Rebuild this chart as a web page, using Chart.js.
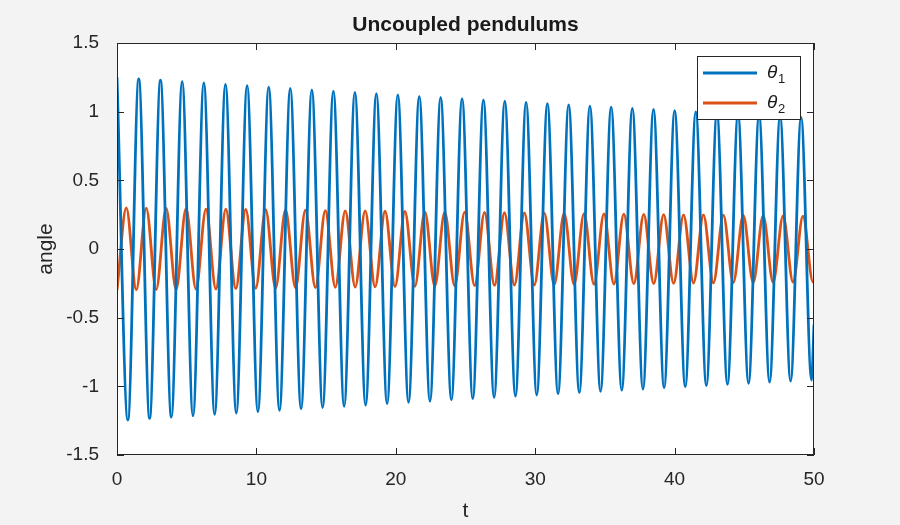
<!DOCTYPE html>
<html><head><meta charset="utf-8">
<script src="https://cdn.jsdelivr.net/npm/chart.js@4/dist/chart.umd.min.js"></script>
<style>html,body{margin:0;padding:0;background:#f3f3f3}#c{display:block}</style>
</head><body><canvas id="c" width="900" height="525"></canvas>
<script>
// theta1 extrema (peak/trough times alternating)
const theta1Times = [0,0.780,1.560,2.339,3.118,3.897,4.675,5.452,6.229,7.006,7.782,8.558,9.333,10.108,10.883,11.657,12.431,13.204,13.977,14.750,15.522,16.294,17.065,17.836,18.606,19.376,20.145,20.914,21.683,22.451,23.219,23.987,24.754,25.521,26.287,27.053,27.818,28.583,29.347,30.111,30.875,31.638,32.401,33.163,33.925,34.687,35.448,36.209,36.969,37.729,38.488,39.247,40.005,40.763,41.521,42.278,43.035,43.791,44.547,45.303,46.058,46.813,47.567,48.321,49.074,49.825,50];
const theta1Values = [1.250,-1.245,1.239,-1.234,1.229,-1.224,1.219,-1.214,1.209,-1.204,1.199,-1.194,1.189,-1.184,1.179,-1.174,1.169,-1.164,1.159,-1.155,1.150,-1.145,1.140,-1.136,1.131,-1.126,1.122,-1.117,1.112,-1.108,1.103,-1.099,1.094,-1.090,1.085,-1.081,1.076,-1.072,1.067,-1.063,1.059,-1.054,1.050,-1.046,1.041,-1.037,1.033,-1.028,1.024,-1.020,1.016,-1.011,1.007,-1.003,0.999,-0.995,0.991,-0.986,0.982,-0.978,0.974,-0.970,0.966,-0.962,0.958,-0.954,-0.55];
const theta2Times = [0,0.670,1.384,2.098,2.811,3.525,4.239,4.953,5.667,6.380,7.094,7.808,8.522,9.236,9.949,10.663,11.377,12.091,12.805,13.518,14.232,14.946,15.660,16.374,17.087,17.801,18.515,19.229,19.943,20.656,21.370,22.084,22.798,23.512,24.225,24.939,25.653,26.367,27.081,27.794,28.508,29.222,29.936,30.650,31.363,32.077,32.791,33.505,34.219,34.932,35.646,36.360,37.074,37.788,38.501,39.215,39.929,40.643,41.357,42.070,42.784,43.498,44.212,44.926,45.639,46.353,47.067,47.781,48.495,49.208,49.922,50];
const theta2Values = [-0.300,0.299,-0.298,0.297,-0.296,0.295,-0.294,0.293,-0.292,0.291,-0.291,0.290,-0.289,0.288,-0.287,0.286,-0.285,0.284,-0.283,0.282,-0.281,0.280,-0.279,0.278,-0.277,0.277,-0.276,0.275,-0.274,0.273,-0.272,0.271,-0.270,0.269,-0.268,0.268,-0.267,0.266,-0.265,0.264,-0.263,0.262,-0.262,0.261,-0.260,0.259,-0.258,0.257,-0.257,0.256,-0.255,0.254,-0.253,0.252,-0.252,0.251,-0.250,0.249,-0.248,0.248,-0.247,0.246,-0.245,0.244,-0.244,0.243,-0.242,0.241,-0.241,0.240,-0.239,-0.236];
const xTicks = [0,10,20,30,40,50];
const yTicks = [-1.5,-1,-0.5,0,0.5,1,1.5];
const seriesNames = ['1','2'];
const colors = ['#0072BD','#D95319'];
const FONT = '"Liberation Sans", Arial, sans-serif';

const pts = (ts, vs) => ts.map((t,i)=>({x:t,y:vs[i]}));

const deco = {
  id:'deco',
  beforeDraw(ch){
    const {ctx, chartArea:a} = ch;
    ctx.save(); ctx.fillStyle='#fff'; ctx.fillRect(a.left,a.top,a.right-a.left,a.bottom-a.top); ctx.restore();
  },
  afterDraw(ch){
    const {ctx, chartArea:a, scales} = ch;
    ctx.save();
    ctx.strokeStyle='#262626'; ctx.lineWidth=1;
    ctx.strokeRect(a.left+0.5,a.top+0.5,a.right-a.left-1,a.bottom-a.top-1);
    ctx.beginPath();
    xTicks.forEach(v=>{const x=Math.round(scales.x.getPixelForValue(v))+0.5;
      ctx.moveTo(x,a.bottom);ctx.lineTo(x,a.bottom-7);ctx.moveTo(x,a.top);ctx.lineTo(x,a.top+7);});
    yTicks.forEach(v=>{const y=Math.round(scales.y.getPixelForValue(v))+0.5;
      ctx.moveTo(a.left,y);ctx.lineTo(a.left+7,y);ctx.moveTo(a.right,y);ctx.lineTo(a.right-7,y);});
    ctx.stroke();
    ctx.fillStyle='#1a1a1a'; ctx.font='bold 21px '+FONT; ctx.textAlign='center'; ctx.textBaseline='alphabetic';
    ctx.fillText('Uncoupled pendulums',(a.left+a.right)/2,31);
    // axis titles
    ctx.fillStyle='#262626'; ctx.font='21px '+FONT;
    ctx.textBaseline='middle';
    ctx.fillText('t',(a.left+a.right)/2,511);
    ctx.save(); ctx.translate(46,(a.top+a.bottom)/2); ctx.rotate(-Math.PI/2); ctx.fillText('angle',0,0); ctx.restore();
    // legend
    const lx=697, ly=56, lw=103, lh=63;
    ctx.fillStyle='#fff'; ctx.fillRect(lx,ly,lw,lh);
    ctx.strokeStyle='#262626'; ctx.lineWidth=1;
    ctx.strokeRect(lx+0.5,ly+0.5,lw,lh);
    seriesNames.forEach((n,i)=>{
      const y=ly+17+i*30;
      ctx.strokeStyle=colors[i]; ctx.lineWidth=3;
      ctx.beginPath(); ctx.moveTo(lx+6,y); ctx.lineTo(lx+60,y); ctx.stroke();
      ctx.fillStyle='#1a1a1a'; ctx.textAlign='left'; ctx.textBaseline='middle';
      ctx.font='italic 19px '+FONT; ctx.fillText('θ',lx+70,y);
      ctx.font='13px '+FONT; ctx.fillText(n,lx+81,y+6);
    });
    ctx.restore();
  }
};

new Chart(document.getElementById('c'),{
  type:'line',
  data:{datasets:[
    {label:'θ1',data:pts(theta1Times,theta1Values),borderColor:colors[0],borderWidth:2.8,pointRadius:0,cubicInterpolationMode:'monotone',fill:false},
    {label:'θ2',data:pts(theta2Times,theta2Values),borderColor:colors[1],borderWidth:2.8,pointRadius:0,cubicInterpolationMode:'monotone',fill:false}
  ]},
  options:{
    responsive:false,animation:false,devicePixelRatio:1,
    layout:{padding:{top:43,right:86,left:0,bottom:0}},
    plugins:{legend:{display:false},tooltip:{enabled:false}},
    scales:{
      x:{type:'linear',min:0,max:50,
        afterBuildTicks:s=>{s.ticks=xTicks.map(v=>({value:v}));},
        afterFit:s=>{s.height=70;},
        grid:{display:false},border:{display:false},
        ticks:{color:'#262626',font:{family:FONT,size:19},padding:5,maxRotation:0}},
      y:{type:'linear',min:-1.5,max:1.5,
        afterBuildTicks:s=>{s.ticks=yTicks.map(v=>({value:v}));},
        afterFit:s=>{s.width=117;},
        grid:{display:false},border:{display:false},
        ticks:{color:'#262626',font:{family:FONT,size:19},padding:10,callback:v=>String(v)}}
    }
  },
  plugins:[deco]
});
</script></body></html>
